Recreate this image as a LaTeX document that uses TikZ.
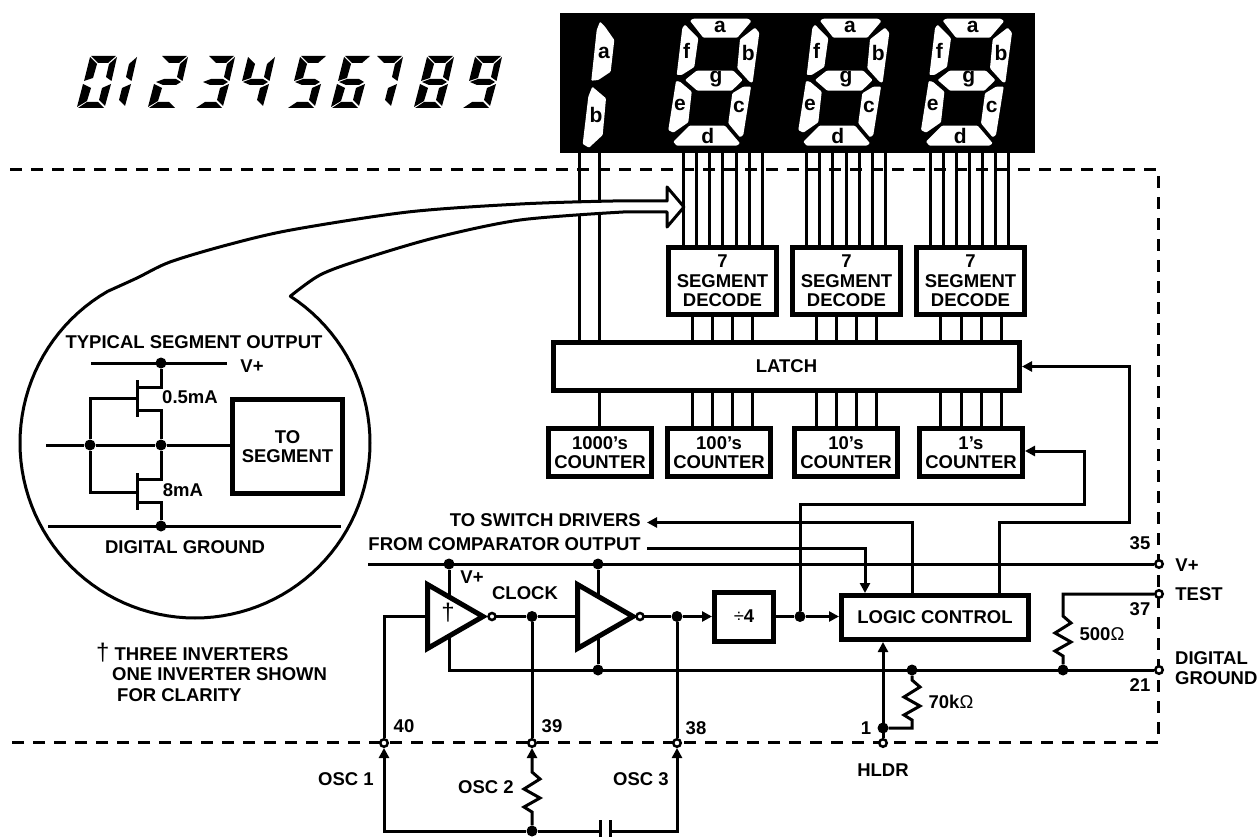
\documentclass[tikz,border=0pt]{standalone}
\usepackage{fontspec}
\setmainfont{Liberation Sans}
\usetikzlibrary{arrows.meta}
\newcommand\sega{\fill (15,0)--(40,0)--(32,7)--(22,7)--cycle;}
\newcommand\segf{\fill (14,1)--(21,8)--(17,22)--(8,25)--cycle;}
\newcommand\segb{\fill (41,1)--(35.5,25)--(30,21)--(33,8)--cycle;}
\newcommand\segg{\fill (9,26)--(17,23)--(29,23)--(34,26)--(29,29)--(16,29)--cycle;}
\newcommand\sege{\fill (7,28)--(15,32)--(11,45)--(1,51)--cycle;}
\newcommand\segc{\fill (35,28)--(29,50)--(23,44)--(26,32)--cycle;}
\newcommand\segd{\fill (2,52)--(11,46)--(22,46)--(28,52)--cycle;}
\newcommand\lcddigit[2]{\begin{scope}[shift={(#1,56)}]\foreach \s in {#2}{\csname seg\s\endcsname}\end{scope}}
\newcommand\bigdigit[2]{\begin{scope}[shift={(#1,0)}]
\fill[dseg] (30,20.7)--(33.3,18.7)--(88.3,18.7)--(91.3,21.3)--(77.3,37.7)--(43.3,37.7)--cycle;
\fill[dseg] (25,24.7)--(38.3,38.3)--(34.3,67)--(21.7,75)--(16.7,75)--(22.3,28)--cycle;
\fill[dseg] (95,27.7)--(99.3,32.7)--(92.7,82.3)--(90,82.3)--(77.3,68.3)--(80,39.3)--cycle;
\fill[dseg] (25,80)--(36.7,70.7)--(73.3,70.7)--(82.7,80)--(71.7,90.7)--(37.3,90.7)--cycle;
\fill[dseg] (16,81)--(20,81.7)--(31.7,91.7)--(28.3,122.3)--(13.3,132.7)--(8.3,130)--cycle;
\fill[dseg] (91,86.7)--(83.3,135)--(80,137.3)--(68.3,123.3)--(72.3,93.3)--(83.3,86.7)--cycle;
\fill[dseg] (13.3,141.7)--(29.3,125.7)--(65,125.7)--(80,143.3)--(76.7,145.7)--(16.7,145.7)--cycle;
\node[seglbl] (#2a) at (60,26.7) {a};
\node[seglbl] (#2f) at (26.7,50.7) {f};
\node[seglbl] (#2b) at (88.3,53.3) {b};
\node[seglbl] (#2g) at (56,79.3) {g};
\node[seglbl] (#2e) at (20,105) {e};
\node[seglbl] (#2c) at (79,107.3) {c};
\node[seglbl] (#2d) at (47.7,136) {d};
\end{scope}}
\newcommand\zigdown{-- ++(8,7) -- ++(-16,10) -- ++(16,9) -- ++(-16,9) -- ++(8,5)}
\newcommand\zigup{-- ++(-8,-5) -- ++(16,-9) -- ++(-16,-9) -- ++(16,-10) -- ++(-8,-7)}
\tikzset{
  wire/.style={line width=3pt,draw=black},
  dseg/.style={white,rounded corners=1pt},
  lbl/.style={inner sep=0pt,font=\fontsize{18.5}{19.5}\selectfont\bfseries,align=center},
  seglbl/.style={inner sep=0pt,font=\fontsize{21}{21}\selectfont\bfseries},
  blk/.style={draw=black,line width=5pt,fill=white,inner sep=0pt,font=\fontsize{18.5}{19.5}\selectfont\bfseries,align=center},
  dot/.style={circle,fill=black,inner sep=0pt,minimum size=11pt},
  term/.style={circle,draw=black,fill=white,line width=2.5pt,inner sep=0pt,minimum size=7.5pt},
  tip/.style={-{Triangle[length=10pt,width=10pt]}},
  inv/.style={draw=black,line width=5pt,fill=white,line join=miter},
}
\begin{document}
\begin{tikzpicture}[x=1pt,y=-1pt]
\useasboundingbox (0,0) rectangle (1259,837);
\fill[white] (0,0) rectangle (1259,837);
% LCD digits
\lcddigit{76}{a,b,c,d,e,f}
\lcddigit{96}{b,c}
\lcddigit{147}{a,b,g,e,d}
\lcddigit{194}{a,b,g,c,d}
\lcddigit{234}{f,g,b,c}
\lcddigit{286}{a,f,g,c,d}
\lcddigit{330}{a,f,g,e,c,d}
\lcddigit{362}{a,b,c}
\lcddigit{413}{a,b,c,d,e,f,g}
\lcddigit{461}{a,f,b,g,c,d}
% dashed boundary
\draw[wire,dash pattern=on 12pt off 9pt] (10,170) -- (1158.7,170) -- (1158.7,742.7) -- (10,742.7);
% display
\node[fill=black,inner sep=0pt,minimum width=475pt,minimum height=140pt] (disp) at (797.5,83) {};
\fill[dseg] (600,21.7)--(605,26.7)--(614.3,40)--(610.7,71.7)--(598.3,80)--(591.3,80.7)--(596.7,30)--cycle;
\fill[dseg] (592.3,86.7)--(606,98.3)--(602.7,135)--(589,147.7)--(582.7,144)--(588.3,96.7)--cycle;
\node[seglbl] (ka) at (604,53) {a};
\node[seglbl] (kb) at (596,115) {b};
\bigdigit{660}{h}
\bigdigit{790}{t}
\bigdigit{912.7}{u}
% boxes
\node[blk,minimum width=108pt,minimum height=67pt] (dec1) at (722.5,281) {7\\SEGMENT\\DECODE};
\node[blk,minimum width=108pt,minimum height=67pt] (dec2) at (846.5,281) {7\\SEGMENT\\DECODE};
\node[blk,minimum width=108pt,minimum height=67pt] (dec3) at (970.5,281) {7\\SEGMENT\\DECODE};
\node[blk,minimum width=466pt,minimum height=48pt] (latch) at (786.5,366.5) {LATCH};
\node[blk,minimum width=103pt,minimum height=48pt] (c1000) at (600,452.5) {1000’s\\COUNTER};
\node[blk,minimum width=103pt,minimum height=48pt] (c100) at (719,452.5) {100’s\\COUNTER};
\node[blk,minimum width=103pt,minimum height=48pt] (c10) at (846,452.5) {10’s\\COUNTER};
\node[blk,minimum width=103pt,minimum height=48pt] (c1) at (971,452.5) {1’s\\COUNTER};
\node[blk,minimum width=59pt,minimum height=49pt] (dvd) at (744,616.5) {{\mdseries ÷}4};
\node[blk,minimum width=187pt,minimum height=44pt] (logic) at (935,617.5) {LOGIC CONTROL};
% display wires
\foreach \x in {683.3,696.5,709.5,722.7,736,749.2,762.5}{\draw[wire] (\x,0 |- disp.south) -- (\x,0 |- dec1.north);}
\foreach \x in {806.7,819.7,832.7,846,859,872,885}{\draw[wire] (\x,0 |- disp.south) -- (\x,0 |- dec2.north);}
\foreach \x in {930,943,956,969,982,995,1008}{\draw[wire] (\x,0 |- disp.south) -- (\x,0 |- dec3.north);}
\foreach \x in {579.7,599.3}{\draw[wire] (\x,0 |- disp.south) -- (\x,0 |- latch.north);}
\foreach \x in {692.5,712.4,732.7,752}{\draw[wire] (\x,0 |- dec1.south) -- (\x,0 |- latch.north);\draw[wire] (\x,0 |- latch.south) -- (\x,0 |- c100.north);}
\foreach \x in {816,836,856,876}{\draw[wire] (\x,0 |- dec2.south) -- (\x,0 |- latch.north);\draw[wire] (\x,0 |- latch.south) -- (\x,0 |- c10.north);}
\foreach \x in {940.6,961,981,1001}{\draw[wire] (\x,0 |- dec3.south) -- (\x,0 |- latch.north);\draw[wire] (\x,0 |- latch.south) -- (\x,0 |- c1.north);}
\draw[wire] (599.5,0 |- latch.south) -- (599.5,0 |- c1000.north);
% balloon
\draw[wire,fill=white,line join=round] plot[smooth] coordinates {(290.3,296.2)(320,275)(360,260)(434,238)(520,220)(623,212)} -- (667,212) -- (667,227) -- (684,207) -- (667,187) -- (667,201) -- plot[smooth] coordinates {(667,201)(613,201)(520,204)(408,212)(291,230)(227,245)(170,262)(137,278)(107.5,291.4)} -- plot[domain=120:417,samples=100,variable=\t] ({195+175*cos(\t)},{443-175*sin(\t)}) -- cycle;
% balloon contents
\node[lbl] (tso) at (194,342) {TYPICAL SEGMENT OUTPUT};
\node[lbl] (bv) at (252,366) {V+};
\node[lbl] (bma) at (190,397) {0.5mA};
\node[lbl] (b8) at (183,490) {8mA};
\node[lbl] (bgnd) at (185,547) {DIGITAL GROUND};
\node[blk,minimum width=110pt,minimum height=94pt] (toseg) at (287.5,446.5) {TO\\SEGMENT};
\node[dot] (bvd) at (161,363) {};
\node[dot] (bmid) at (161,445) {};
\node[dot] (bin) at (90,445) {};
\node[dot] (bgd) at (161,526) {};
\coordinate (bvL) at (91,363);
\coordinate (bvR) at (227,363);
\coordinate (bgL) at (48,526);
\coordinate (bgR) at (341,526);
\coordinate (binL) at (46,445);
\coordinate (g1) at (137,398);
\coordinate (g2) at (137,492);
\coordinate (s1) at (137,387);
\coordinate (d1) at (137,410);
\coordinate (s2) at (137,479);
\coordinate (d2) at (137,502);
\draw[wire] (bvL) -- (bvR);
\draw[wire] (bgL) -- (bgR);
\draw[wire] (binL) -- (bin) -- (bmid) -- (toseg.west |- bmid);
\draw[wire] (g1) -| (bin);
\draw[wire] (g2) -| (bin);
\draw[wire] (bvd) |- (s1);
\draw[wire] (s1 |- d1) -- (bmid |- d1) -- (bmid) -- (bmid |- s2) -- (s2);
\draw[wire] (d2) -- (bgd |- d2) -- (bgd);
\draw[wire] (137,380) -- (137,417);
\draw[wire] (137,473) -- (137,510);
% top-side labels
\node[lbl,anchor=east] (tsw) at (641,520) {TO SWITCH DRIVERS};
\node[lbl,anchor=east] (fco) at (641,544) {FROM COMPARATOR OUTPUT};
\node[lbl] (vlab) at (472,577) {V+};
\node[lbl] (clk) at (525,593) {CLOCK};
\node[lbl] (n40) at (404,726) {40};
\node[lbl] (n39) at (552,726) {39};
\node[lbl] (n38) at (696,728) {38};
\node[lbl] (n1) at (866,728) {1};
\node[lbl] (n35) at (1140,543) {35};
\node[lbl] (n37) at (1140,609) {37};
\node[lbl] (n21) at (1140,685) {21};
\node[lbl] (lv) at (1187,565) {V+};
\node[lbl] (ltest) at (1199,594) {TEST};
\node[lbl,anchor=west,align=left] (lgnd) at (1175,668) {DIGITAL\\GROUND};
\node[lbl] (hl) at (883,770) {HLDR};
\node[lbl] (osc1) at (346,779) {OSC 1};
\node[lbl] (osc2) at (486,787) {OSC 2};
\node[lbl] (osc3) at (641,779) {OSC 3};
\node[lbl] (r500) at (1102,634) {500{\mdseries Ω}};
\node[lbl] (r70) at (951,702) {70k{\mdseries Ω}};
\node[lbl,anchor=west] (nt1) at (96,653) {{\fontsize{24}{24}\selectfont\mdseries †} THREE INVERTERS};
\node[lbl,anchor=west] (nt2) at (112,674) {ONE INVERTER SHOWN};
\node[lbl,anchor=west] (nt3) at (117,695) {FOR CLARITY};
% terminals and dots
\node[dot] (v1) at (449,564) {};
\node[dot] (v2) at (598,564) {};
\node[dot] (gd2) at (598,670) {};
\node[dot] (gd3) at (912,670) {};
\node[dot] (gd4) at (1063,670) {};
\node[dot] (ck) at (532,616.5) {};
\node[dot] (ck2) at (677,616.5) {};
\node[dot] (qd) at (800,616.5) {};
\node[dot] (hd) at (883,728) {};
\node[dot] (bm) at (532,831) {};
\node[term] (t40) at (384,743) {};
\node[term] (t39) at (532,743) {};
\node[term] (t38) at (677,743) {};
\node[term] (thl) at (883,743) {};
\node[term] (tv) at (1159,564) {};
\node[term] (tt) at (1159,594) {};
\node[term] (tg) at (1159,670) {};
\coordinate (railL) at (368,564);
\coordinate (gnL) at (449,670);
\coordinate (swT) at (647,522.5);
\coordinate (swC) at (912,522.5);
\coordinate (fcL) at (647,548);
\coordinate (fcC) at (865,548);
\coordinate (laA) at (999,522);
\coordinate (laB) at (1129,522);
\coordinate (laC) at (1129,366.5);
\coordinate (coA) at (800,504);
\coordinate (coB) at (1084,504);
\coordinate (coC) at (1084,451);
\coordinate (tcT) at (1063,594);
\coordinate (botL) at (384,831);
\coordinate (botR) at (677,831);
\coordinate (capL) at (600,831);
\coordinate (capR) at (610,831);
\coordinate (inL) at (384,616.5);
\coordinate (tr1L) at (427.5,616.5);
\coordinate (tr2L) at (577.5,616.5);
% connectors
\draw[wire] (railL) -- (tv);
\draw[wire] (v1) -- (gnL) -- (tg);
\draw[wire] (v2) -- (gd2);
\draw[wire] (t40) -- (inL) -- (tr1L);
\draw[wire] (492,616.5) -- (ck) -- (tr2L);
\draw[wire,tip] (640,616.5) -- (ck2) -- (dvd.west);
\draw[wire] (ck) -- (t39);
\draw[wire] (ck2) -- (t38);
\draw[wire,tip] (dvd.east) -- (qd) -- (logic.west |- qd);
\draw[wire,tip] (qd) -- (coA) -- (coB) -- (coC) -- (c1.east |- coC);
\draw[wire,tip] (logic.north -| laA) -- (laA) -- (laB) -- (laC) -- (latch.east);
\draw[wire,tip] (logic.north -| swC) -- (swC) -- (swT);
\draw[wire,tip] (fcL) -- (fcC) -- (logic.north -| fcC);
\draw[wire,tip] (thl) -- (logic.south -| thl);
\draw[wire] (gd3) -- ++(0,10) \zigdown -- (hd -| gd3) -- (hd);
\draw[wire] (tt) -- (tcT) -- ++(0,22) \zigdown -- (gd4);
\draw[wire,tip] (bm) -- (532,812) \zigup -- (t39);
\draw[wire,tip] (capR) -- (botR) -- (t38);
\draw[wire,tip] (bm) -- (botL) -- (t40);
\draw[wire] (bm) -- (capL);
\draw[wire] (600,820) -- (capL |- 0,837);
\draw[wire] (610,820) -- (capR |- 0,837);
% inverters
\draw[inv] (427.5,584.5) -- (483,616.5) -- (427.5,648.5) -- cycle;
\draw[inv] (577.5,584.5) -- (633,616.5) -- (577.5,648.5) -- cycle;
\node[term,minimum size=7pt] (bb1) at (492,616.5) {};
\node[term,minimum size=7pt] (bb2) at (640,616.5) {};
\node[lbl,font=\fontsize{24}{24}\selectfont] (dg) at (448,613) {†};
\end{tikzpicture}
\end{document}
